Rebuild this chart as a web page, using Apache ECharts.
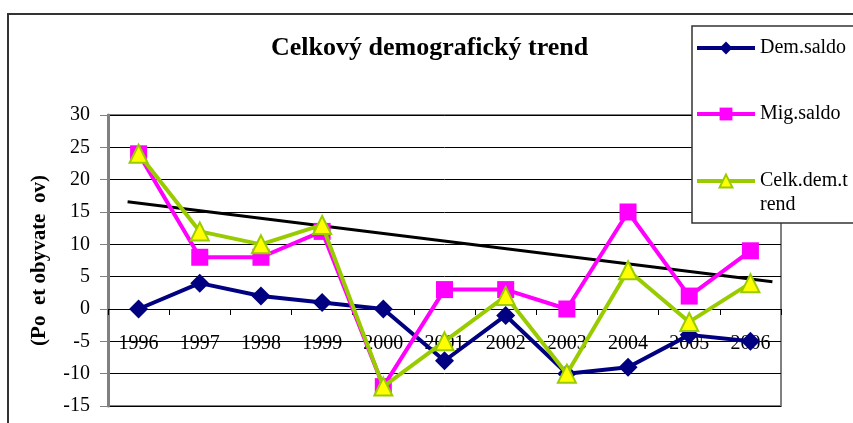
<!DOCTYPE html>
<html>
<head>
<meta charset="utf-8">
<script src="https://cdn.jsdelivr.net/npm/echarts@6/dist/echarts.min.js"></script>
<style>
  html, body { margin: 0; padding: 0; background: #fff; }
  #chart { width: 853px; height: 423px; }
</style>
</head>
<body>
<div id="chart"></div>
<script>
// data
var years = ['1996', '1997', '1998', '1999', '2000', '2001', '2002', '2003', '2004', '2005', '2006'];
var demSaldo = [0, 4, 2, 1, 0, -8, -1, -10, -9, -4, -5];
var migSaldo = [24, 8, 8, 12, -12, 3, 3, 0, 15, 2, 9];
var celkTrend = [24, 12, 10, 13, -12, -5, 2, -10, 6, -2, 4];
// hand drawn trend line, ends given as (category index, value)
var trendX = [-0.18, 10.36];
var trendY = [16.6, 4.2];

var font = "'Liberation Serif', 'Times New Roman', serif";
var chart = echarts.init(document.getElementById('chart'));

function legendAt(name, top, label) {
  return {
    data: [name],
    left: 695,
    top: top,
    padding: 0,
    itemWidth: 58,
    itemHeight: 16,
    orient: 'vertical',
    selectedMode: false,
    z: 10,
    lineStyle: { width: 4 },
    formatter: function() { return label; },
    textStyle: { fontFamily: font, fontSize: 20, color: '#000', lineHeight: 24 }
  };
}

chart.setOption({
  animation: false,
  title: {
    text: 'Celkový demografický trend',
    left: 266,
    top: 30,
    textStyle: { fontFamily: font, fontSize: 26, fontWeight: 'bold', color: '#000' }
  },
  legend: [
    legendAt('Dem.saldo', 36, 'Dem.saldo'),
    legendAt('Mig.saldo', 102, 'Mig.saldo'),
    legendAt('Celk.dem.trend', 145, '\nCelk.dem.t\nrend')
  ],
  grid: {
    left: 108,
    top: 115,
    right: 72,
    bottom: 17,
    outerBoundsMode: 'none',
    containLabel: false,
    show: true,
    borderColor: '#808080',
    borderWidth: 2
  },
  xAxis: [
    {
      type: 'category',
      data: years,
      boundaryGap: true,
      position: 'bottom',
      // sits on the zero line: grid bottom is 97px below value 0
      offset: -97,
      axisLine: { onZero: false, lineStyle: { color: '#000', width: 1 } },
      axisTick: { show: true, length: 6, lineStyle: { color: '#000' } },
      axisLabel: { fontFamily: font, fontSize: 20, color: '#000', margin: 25, interval: 0 },
      splitLine: { show: false }
    },
    {
      type: 'value',
      position: 'top',
      min: -0.5,
      max: 10.5,
      show: false
    }
  ],
  yAxis: {
    type: 'value',
    min: -15,
    max: 30,
    interval: 5,
    name: '(Po  et obyvate  ov)',
    nameLocation: 'middle',
    nameGap: 58,
    nameRotate: 90,
    nameTextStyle: { fontFamily: font, fontSize: 21, fontWeight: 'bold', color: '#000' },
    axisLine: { show: true, onZero: false, lineStyle: { color: '#808080', width: 3 } },
    axisTick: { show: true, length: 8, lineStyle: { color: '#808080', width: 1 } },
    axisLabel: { fontFamily: font, fontSize: 20, color: '#000', margin: 18 },
    splitLine: { show: true, lineStyle: { color: '#000', width: 1 } }
  },
  series: [
    {
      name: 'trend',
      type: 'line',
      xAxisIndex: 1,
      data: trendX.map(function(x, i) { return [x, trendY[i]]; }),
      symbol: 'none',
      lineStyle: { color: '#000', width: 3 },
      z: 1
    },
    {
      name: 'Dem.saldo',
      type: 'line',
      data: demSaldo,
      symbol: 'diamond',
      symbolSize: 19,
      lineStyle: { color: '#000080', width: 4 },
      itemStyle: { color: '#000080' },
      z: 2
    },
    {
      name: 'Mig.saldo',
      type: 'line',
      data: migSaldo,
      symbol: 'rect',
      symbolSize: 17,
      lineStyle: { color: '#FF00FF', width: 4 },
      itemStyle: { color: '#FF00FF' },
      z: 3
    },
    {
      name: 'Celk.dem.trend',
      type: 'line',
      data: celkTrend,
      symbol: 'triangle',
      symbolSize: 18,
      lineStyle: { color: '#99CC00', width: 4 },
      itemStyle: { color: '#FFFF00', borderColor: '#99CC00', borderWidth: 2 },
      z: 4
    }
  ],
  graphic: [
    {
      type: 'rect',
      shape: { x: 8, y: 14, width: 900, height: 500 },
      style: { fill: 'none', stroke: '#333', lineWidth: 2 },
      silent: true
    },
    {
      type: 'rect',
      shape: { x: 692, y: 26, width: 200, height: 197 },
      style: { fill: '#fff', stroke: '#333', lineWidth: 1.5 },
      z: 5,
      silent: true
    }
  ]
});
</script>
</body>
</html>
